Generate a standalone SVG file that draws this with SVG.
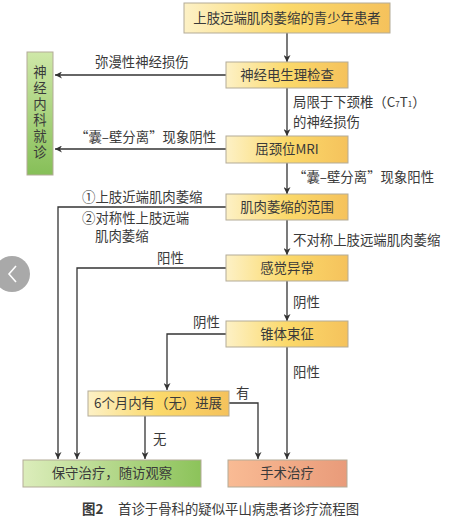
<svg xmlns="http://www.w3.org/2000/svg" width="454" height="522" viewBox="0 0 454 522">
<defs>
<linearGradient id="gy" x1="0" y1="0" x2="1" y2="0">
<stop offset="0" stop-color="#fdf1c6"/>
<stop offset="0.5" stop-color="#fbd96a"/>
<stop offset="1" stop-color="#f5c25c"/>
</linearGradient>
<linearGradient id="gg" x1="0" y1="0" x2="1" y2="0">
<stop offset="0" stop-color="#dcedbb"/>
<stop offset="1" stop-color="#8cc35a"/>
</linearGradient>
<linearGradient id="gv" x1="0" y1="0" x2="0" y2="1">
<stop offset="0" stop-color="#cfe8a8"/>
<stop offset="1" stop-color="#86bf58"/>
</linearGradient>
<linearGradient id="gs" x1="0" y1="0" x2="1" y2="0">
<stop offset="0" stop-color="#f9bb94"/>
<stop offset="1" stop-color="#e99b7a"/>
</linearGradient>
<marker id="ah" viewBox="0 0 10 10" refX="10" refY="5" markerWidth="7" markerHeight="7" markerUnits="userSpaceOnUse" orient="auto">
<path d="M0,0 L10,5 L0,10 L3,5 Z" fill="#333"/>
</marker>
</defs>
<style>
.box{stroke:#b3ab98;stroke-width:1}
.t{font-family:"Noto Sans CJK SC","Noto Sans",sans-serif;font-size:13.4px;fill:#3a3a3a}
.m{text-anchor:middle}
.c{fill:none;stroke:#333;stroke-width:1.3}
.a{marker-end:url(#ah)}
</style>
<rect width="454" height="522" fill="#ffffff"/>

<g id="connectors">
<path class="c a" d="M287,33 V62"/>
<path class="c a" d="M226,75 H55"/>
<path class="c a" d="M287,88 V136"/>
<path class="c a" d="M226,149 H55"/>
<path class="c a" d="M287,163 V194"/>
<path class="c a" d="M226,207 H58 V459"/>
<path class="c a" d="M287,220 V255"/>
<path class="c a" d="M226,268 H77 V459"/>
<path class="c a" d="M287,281 V321"/>
<path class="c a" d="M226,334 H167 V390"/>
<path class="c a" d="M287,347 V459"/>
<path class="c a" d="M229,403 H258 V459"/>
<path class="c a" d="M145,416 V459"/>
</g>

<g id="labels">
<text class="t" x="95" y="67">弥漫性神经损伤</text>
<text class="t" x="293" y="107">局限于下颈椎（C<tspan font-size="8">7</tspan>T<tspan font-size="8">1</tspan>）</text>
<text class="t" x="293" y="127">的神经损伤</text>
<text class="t" x="75" y="142">“囊–壁分离”现象阴性</text>
<text class="t" x="293" y="182">“囊–壁分离”现象阳性</text>
<text class="t" x="82" y="202">①上肢近端肌肉萎缩</text>
<text class="t" x="82" y="223">②对称性上肢远端</text>
<text class="t" x="95" y="241">肌肉萎缩</text>
<text class="t" x="293" y="245">不对称上肢远端肌肉萎缩</text>
<text class="t" x="157" y="263">阳性</text>
<text class="t" x="293" y="307">阴性</text>
<text class="t" x="193" y="327">阴性</text>
<text class="t" x="293" y="377">阳性</text>
<text class="t" x="236" y="398">有</text>
<text class="t" x="153" y="444">无</text>
</g>

<g id="n1"><rect class="box" x="184" y="3" width="206" height="30" fill="url(#gy)"/><text class="t m" x="287" y="23">上肢远端肌肉萎缩的青少年患者</text></g>
<g id="n2"><rect class="box" x="226" y="62" width="122" height="26" fill="url(#gy)"/><text class="t m" x="287" y="80">神经电生理检查</text></g>
<g id="n3"><rect class="box" x="226" y="136" width="122" height="27" fill="url(#gy)"/><text class="t m" x="287" y="154">屈颈位MRI</text></g>
<g id="n4"><rect class="box" x="226" y="194" width="122" height="26" fill="url(#gy)"/><text class="t m" x="287" y="212">肌肉萎缩的范围</text></g>
<g id="n5"><rect class="box" x="226" y="255" width="122" height="26" fill="url(#gy)"/><text class="t m" x="287" y="273">感觉异常</text></g>
<g id="n6"><rect class="box" x="226" y="321" width="122" height="26" fill="url(#gy)"/><text class="t m" x="287" y="339">锥体束征</text></g>
<g id="n7"><rect class="box" x="88" y="391" width="141" height="25" fill="url(#gy)"/><text class="t m" x="158" y="408">6个月内有（无）进展</text></g>
<g id="n8"><rect class="box" x="27" y="52" width="26" height="123" fill="url(#gv)"/>
<text class="t m" x="40" y="113" style="writing-mode:vertical-rl;letter-spacing:2.6px">神经内科就诊</text></g>
<g id="n9"><rect class="box" x="23" y="460" width="178" height="27" fill="url(#gg)"/><text class="t m" x="112" y="478">保守治疗，随访观察</text></g>
<g id="n10"><rect class="box" x="228" y="460" width="119" height="27" fill="url(#gs)"/><text class="t m" x="287" y="478">手术治疗</text></g>

<text class="t" x="82" y="514" font-weight="bold">图2</text>
<text class="t" x="118" y="514">首诊于骨科的疑似平山病患者诊疗流程图</text>

<g id="navbtn">
<circle cx="12" cy="274" r="18" fill="#a9a9a9"/>
<polyline points="16,266 9,274 16,282" fill="none" stroke="#ffffff" stroke-width="1.6"/>
</g>
</svg>
